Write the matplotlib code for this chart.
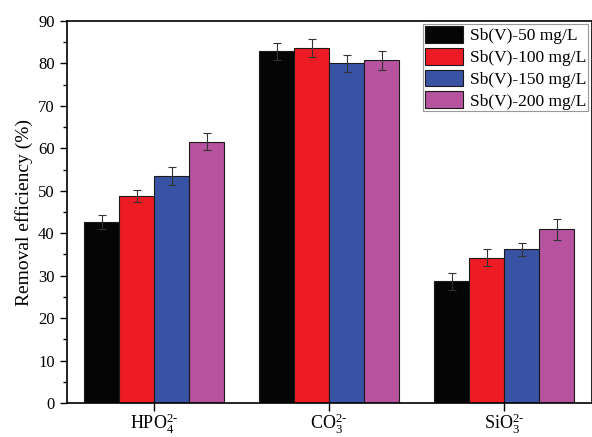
import numpy as np
import matplotlib
matplotlib.use("Agg")
import matplotlib.pyplot as plt
from matplotlib.ticker import MultipleLocator

plt.rcParams['font.family'] = ['Liberation Serif', 'DejaVu Serif']
plt.rcParams['mathtext.fontset'] = 'custom'
plt.rcParams['mathtext.rm'] = 'Liberation Serif'
plt.rcParams['mathtext.it'] = 'Liberation Serif'

anions = [r'HPO$_4^{2\text{-}}$', r'CO$_3^{2\text{-}}$', r'SiO$_3^{2\text{-}}$']
series = ['Sb(V)-50 mg/L', 'Sb(V)-100 mg/L', 'Sb(V)-150 mg/L', 'Sb(V)-200 mg/L']
sb50 = [42.7, 82.9, 28.7]
sb100 = [48.8, 83.6, 34.2]
sb150 = [53.5, 80.0, 36.2]
sb200 = [61.6, 80.7, 40.9]
err50 = [1.6, 2.0, 2.0]
err100 = [1.5, 2.1, 2.0]
err150 = [2.1, 2.1, 1.5]
err200 = [2.1, 2.3, 2.4]
colors = ['#050505', '#ed1c24', '#3953a4', '#b6529e']

values = [sb50, sb100, sb150, sb200]
errors = [err50, err100, err150, err200]

fig = plt.figure(figsize=(5.92, 4.37), dpi=100)
ax = fig.add_axes([66.5 / 592, 1 - 403 / 437, (591.5 - 66.5) / 592, (403 - 21) / 437])

x = np.arange(len(anions))
w = 0.2
for i in range(4):
    ax.bar(x + (i - 1.5) * w, values[i], w, color=colors[i], edgecolor='#1a1a1a',
           linewidth=0.8, label=series[i],
           yerr=errors[i], error_kw=dict(ecolor='#333333', elinewidth=0.8, capsize=3, capthick=0.8))

ax.set_xlim(-0.5, 2.5)
ax.set_ylim(0, 90)
ax.set_xticks(x)
ax.set_xticklabels(anions, fontsize=13)
ax.yaxis.set_major_locator(MultipleLocator(10))
ax.yaxis.set_minor_locator(MultipleLocator(5))
ax.tick_params(axis='y', which='major', direction='out', length=5, width=1, labelsize=12)
ax.tick_params(axis='y', which='minor', direction='out', length=3, width=1)
ax.tick_params(axis='x', direction='out', length=6, width=1, pad=0.5)
for s in ax.spines.values():
    s.set_linewidth(1.2)
ax.set_ylabel('Removal efficiency (%)', fontsize=14)

leg = ax.legend(loc='upper right', fontsize=12.5, frameon=True, fancybox=False,
                edgecolor='#808080', handlelength=2.2, handleheight=1.1,
                borderpad=0.1, labelspacing=0.2, handletextpad=0.4,
                borderaxespad=0.2)
leg.get_frame().set_linewidth(0.8)

fig.savefig('out.png', dpi=100)
